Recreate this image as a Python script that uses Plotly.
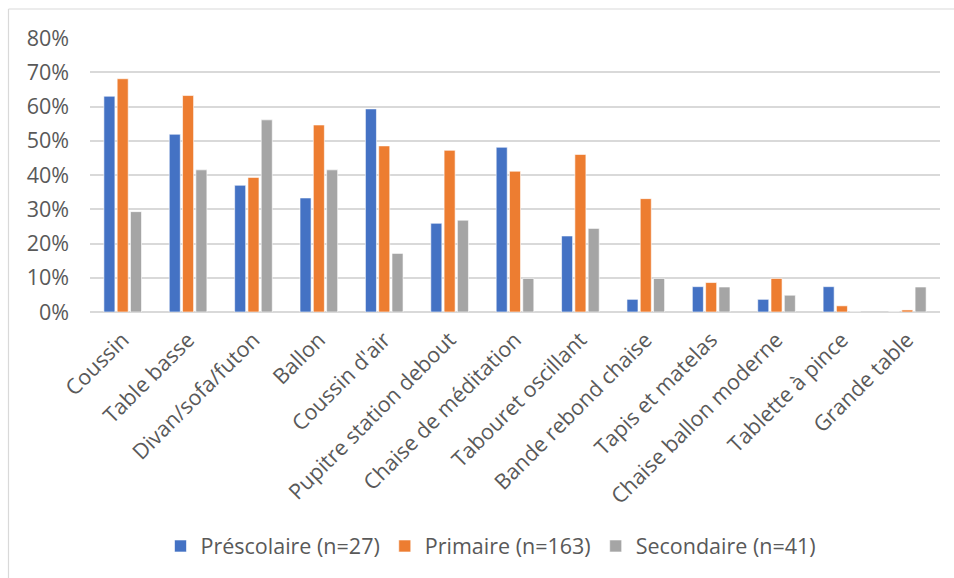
import plotly.graph_objects as go

categories = [
    "Coussin", "Table basse", "Divan/sofa/futon", "Ballon", "Coussin d'air",
    "Pupitre station debout", "Chaise de méditation", "Tabouret oscillant",
    "Bande rebond chaise", "Tapis et matelas", "Chaise ballon moderne",
    "Tablette à pince", "Grande table",
]
prescolaire = [63.0, 51.9, 37.0, 33.3, 59.3, 25.9, 48.1, 22.2, 3.7, 7.4, 3.7, 7.4, 0.0]
primaire = [68.1, 63.2, 39.3, 54.6, 48.5, 47.2, 41.1, 46.0, 33.1, 8.6, 9.8, 1.8, 0.6]
secondaire = [29.3, 41.5, 56.1, 41.5, 17.1, 26.8, 9.8, 24.4, 9.8, 7.3, 4.9, 0.0, 7.3]
series_names = ["Préscolaire (n=27)", "Primaire (n=163)", "Secondaire (n=41)"]
series_colors = ["#4472C4", "#ED7D31", "#A5A5A5"]
y_ticks = [0, 10, 20, 30, 40, 50, 60, 70, 80]

FONT = "Open Sans"
FS = 21.5
TEXT = "#595959"
GRID = "#D9D9D9"

fig = go.Figure()
for name, vals, color in zip(series_names, [prescolaire, primaire, secondaire], series_colors):
    fig.add_trace(go.Bar(
        x=categories, y=[v / 100 for v in vals], name=name,
        marker=dict(color=color, line=dict(color="white", width=0.6)),
    ))

W, H = 954, 578
L, R, T, B = 90, 14, 38, 266
pw, ph = W - L - R, H - T - B

fig.update_layout(
    width=W, height=H,
    margin=dict(l=L, r=R, t=T, b=B),
    paper_bgcolor="white", plot_bgcolor="white",
    barmode="group", bargap=0.39, bargroupgap=0.17,
    font=dict(family=FONT, size=FS, color=TEXT),
    showlegend=True,
    legend=dict(
        orientation="h", x=(491 - L) / pw, xanchor="center",
        y=(H - B - 546) / ph, yanchor="middle",
        font=dict(size=FS, color=TEXT), itemwidth=30,
        traceorder="normal",
    ),
    xaxis=dict(
        tickangle=-45, showgrid=False, showline=False, zeroline=False,
        ticks="", tickfont=dict(size=FS, color=TEXT), ticklabelstandoff=10,
    ),
    yaxis=dict(
        range=[0, 0.8], tickvals=[t / 100 for t in y_ticks],
        ticktext=[f"{t}%" for t in y_ticks],
        showgrid=True, gridcolor=GRID, gridwidth=1.5,
        zeroline=True, zerolinecolor=GRID, zerolinewidth=2,
        showline=False, ticks="", tickfont=dict(size=FS, color=TEXT),
        ticklabelstandoff=20,
    ),
    shapes=[
        dict(type="line", xref="paper", yref="paper",
             x0=(8.5 - L) / pw, x1=(960 - L) / pw,
             y0=1 + (T - 9) / ph, y1=1 + (T - 9) / ph,
             line=dict(color=GRID, width=1.2)),
        dict(type="line", xref="paper", yref="paper",
             x0=(8.5 - L) / pw, x1=(8.5 - L) / pw,
             y0=1 + (T - 9) / ph, y1=-(B + 10) / ph,
             line=dict(color=GRID, width=1.2)),
    ],
)

fig.write_html("out.html")
